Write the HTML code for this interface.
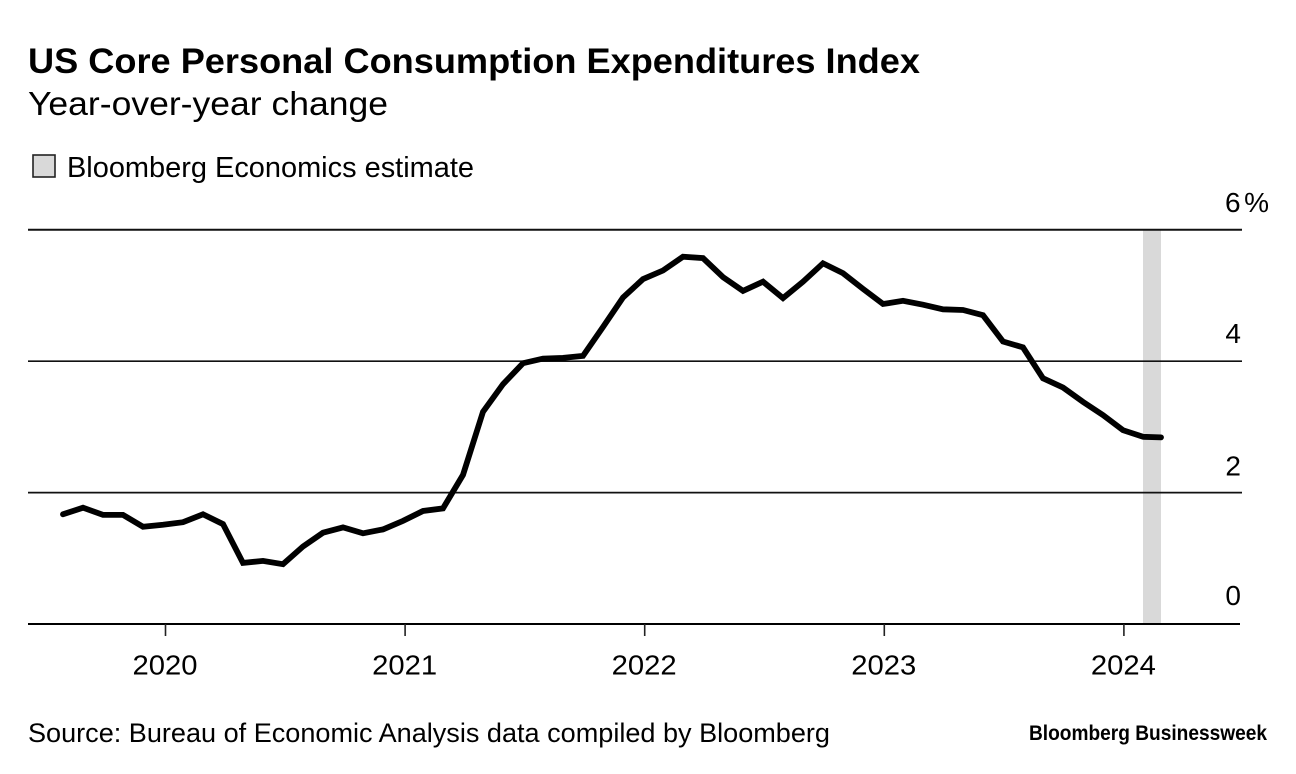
<!DOCTYPE html>
<html lang="en">
<head>
<meta charset="utf-8">
<title>US Core Personal Consumption Expenditures Index</title>
<style>
html,body{margin:0;padding:0;background:#fff;}
svg{display:block;}
text{font-family:"Liberation Sans",Arial,sans-serif;fill:#000;}
</style>
</head>
<body>
<svg id="chart" xmlns="http://www.w3.org/2000/svg" width="1296" height="774" viewBox="0 0 1296 774">
  <rect x="0" y="0" width="1296" height="774" fill="#fff"/>
  <text x="28" y="73" font-size="35.5" font-weight="700" textLength="892" lengthAdjust="spacingAndGlyphs">US Core Personal Consumption Expenditures Index</text>
  <text x="28" y="115" font-size="33" textLength="360" lengthAdjust="spacingAndGlyphs">Year-over-year change</text>
  <rect x="33" y="155" width="22" height="22" fill="#d9d9d9" stroke="#222" stroke-width="1.6"/>
  <text x="67" y="177" font-size="28.5" textLength="407" lengthAdjust="spacingAndGlyphs">Bloomberg Economics estimate</text>
  <g id="plot"></g>
  <text x="28" y="742" font-size="26.5" textLength="802" lengthAdjust="spacingAndGlyphs">Source: Bureau of Economic Analysis data compiled by Bloomberg</text>
  <text x="1029" y="740" font-size="21.5" font-weight="700" textLength="238" lengthAdjust="spacingAndGlyphs">Bloomberg Businessweek</text>
</svg>
<script>
const yearLabels = ['2020', '2021', '2022', '2023', '2024'];
const yTickValues = [0, 2, 4, 6];
const yTickLabels = ['0', '2', '4', '6%'];
const estimateStartIndex = 54;
const estimateEndIndex = 55;
const pceValues = [
  1.67, 1.77, 1.66, 1.66, 1.48, 1.51, 1.55, 1.67, 1.52, 0.93, 0.96, 0.91,
  1.18, 1.39, 1.47, 1.38, 1.44, 1.57, 1.72, 1.76, 2.27, 3.23, 3.65, 3.97,
  4.04, 4.05, 4.08, 4.52, 4.97, 5.25, 5.38, 5.59, 5.57, 5.28, 5.07, 5.21,
  4.96, 5.21, 5.49, 5.34, 5.10, 4.87, 4.92, 4.86, 4.79, 4.78, 4.70, 4.30,
  4.21, 3.74, 3.60, 3.38, 3.18, 2.95, 2.85, 2.84
];

const NS = 'http://www.w3.org/2000/svg';
const plot = document.getElementById('plot');
function xPoint(i) { return i <= 54 ? 63 + i * 20 : 1143 + (i - 54) * 18; }
function xYear(k) { return 165.5 + k * 239.6; }
function yScale(v) { return 624 - v * 65.7; }
function make(tag, attrs, parent) {
  const el = document.createElementNS(NS, tag);
  for (const k in attrs) el.setAttribute(k, attrs[k]);
  (parent || plot).appendChild(el);
  return el;
}

const band = make('rect', {
  x: xPoint(estimateStartIndex), y: yScale(6),
  width: xPoint(estimateEndIndex) - xPoint(estimateStartIndex),
  height: yScale(0) - yScale(6), fill: '#d9d9d9'
});



yTickValues.forEach(function (v, i) {
  if (v !== 0) {
    const grid = make('line', { x1: 28, x2: 1242, y1: yScale(v), y2: yScale(v), stroke: '#111', 'stroke-width': v === 6 ? 2 : 1.7 });
    
    
  }
  const offset = v === 0 ? 19 : (v === 2 ? 17 : 18);
  const label = make('text', { x: 1241, y: yScale(v) - offset, 'font-size': 28 });
  label.textContent = yTickLabels[i];
  
  
  if (v === 6) { label.setAttribute('x', 1225); label.setAttribute('textLength', 44); label.setAttribute('lengthAdjust', 'spacing'); }
  else { label.setAttribute('text-anchor', 'end'); }
});

const axis = make('line', { x1: 28, x2: 1240, y1: yScale(0), y2: yScale(0), stroke: '#000', 'stroke-width': 2 });



yearLabels.forEach(function (year, k) {
  const tick = make('line', { x1: xYear(k), x2: xYear(k), y1: yScale(0), y2: yScale(0) + 12, stroke: '#222', 'stroke-width': 1.6 });
  
  
  const label = make('text', { x: xYear(k) - 0.5, y: 674.5, 'font-size': 28, 'text-anchor': 'middle', textLength: 65, lengthAdjust: 'spacingAndGlyphs' });
  label.textContent = year;
  
  
});

const pathData = pceValues.map(function (v, i) {
  return (i ? 'L' : 'M') + xPoint(i).toFixed(1) + ' ' + yScale(v).toFixed(1);
}).join(' ');
const line = make('path', { d: pathData, fill: 'none', stroke: '#000', 'stroke-width': 5.8, 'stroke-linejoin': 'miter', 'stroke-linecap': 'round' });


</script>
</body>
</html>
